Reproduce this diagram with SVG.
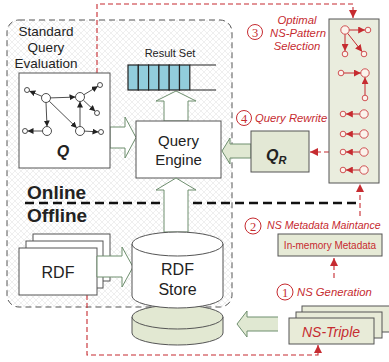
<svg xmlns="http://www.w3.org/2000/svg" width="389" height="362" viewBox="0 0 389 362">
<style>
  .box { stroke: #555; stroke-width: 1; }
  .wht { fill: #fff; }
  .txt { font-family: "Liberation Sans", Arial, sans-serif; fill: #222; }
  .red { font-family: "Liberation Sans", Arial, sans-serif; fill: #c62b30; font-style: italic; }
  .num { font-family: "Liberation Serif", serif; fill: #c62b30; }
  .rdash { fill: none; stroke: #c62b30; stroke-width: 1.1; stroke-dasharray: 5 3; }
  .harrow { fill: #fff; stroke: #6f8f6f; stroke-width: 1; }
  .garrow { fill: #e0e8d2; stroke: #6f8f6f; stroke-width: 1; }
  .qe { fill: none; stroke: #222; stroke-width: 0.8; }
  .qn { fill: #fff; stroke: #222; stroke-width: 0.8; }
  .pe { fill: none; stroke: #c62b30; stroke-width: 1; }
  .pn { fill: #fbf3ec; stroke: #c62b30; stroke-width: 0.8; }
  .cell { fill: #92cddc; stroke: #222; stroke-width: 1.2; }
</style>
<defs>
  <pattern id="hatch" width="6" height="6" patternUnits="userSpaceOnUse">
    <rect width="6" height="6" fill="#fff"/>
    <path d="M0,0 L6,6 M6,0 L0,6" stroke="#e4e4e4" stroke-width="0.6"/>
  </pattern>
  <marker id="ra" viewBox="0 0 10 10" refX="10" refY="5" markerWidth="8" markerHeight="8" markerUnits="userSpaceOnUse" orient="auto">
    <path d="M0,0 L10,5 L0,10 z" fill="#c62b30"/>
  </marker>
  <marker id="rs" viewBox="0 0 10 10" refX="10" refY="5" markerWidth="7" markerHeight="7" markerUnits="userSpaceOnUse" orient="auto">
    <path d="M0,0 L10,5 L0,10 z" fill="#c62b30"/>
  </marker>
  <marker id="ba" viewBox="0 0 10 10" refX="10" refY="5" markerWidth="6" markerHeight="6" markerUnits="userSpaceOnUse" orient="auto">
    <path d="M0,0 L10,5 L0,10 z" fill="#222"/>
  </marker>
</defs>

<rect width="389" height="362" fill="#fff"/>

<!-- Online region -->
<g id="region">
  <rect x="7" y="20" width="225" height="287" rx="12" fill="url(#hatch)" stroke="#555" stroke-width="1" stroke-dasharray="6 4"/>
  <text class="txt" x="46" y="36" font-size="13.5" text-anchor="middle">Standard</text>
  <text class="txt" x="46" y="52" font-size="13.5" text-anchor="middle">Query</text>
  <text class="txt" x="46" y="68" font-size="13.5" text-anchor="middle">Evaluation</text>
</g>

<!-- connectors -->
<g id="connectors">
  <path class="rdash" d="M97,73 V4 H353 V18" marker-end="url(#ra)"/>
  <path class="rdash" d="M329,152 H310" marker-end="url(#ra)"/>
  <path class="rdash" d="M360,216 V184" marker-end="url(#ra)"/>
  <path class="rdash" d="M334,278 V258" marker-end="url(#ra)"/>
  <path class="rdash" d="M87,295 V355 H318 V345" marker-end="url(#ra)"/>
  <path class="harrow" d="M164,121 V101 H156 L176,91 L196,101 H188 V121 Z"/>
  <path class="harrow" d="M110,127 H125 V117 L136,137.5 L125,158 V148 H110 Z"/>
  <path class="garrow" d="M251,144 H230 V138 L222,151 L230,164 V158 H251 Z"/>
</g>

<!-- Q box -->
<g id="node-q">
  <rect class="box wht" x="19" y="73" width="91" height="95"/>
  <line class="qe" x1="41.9" y1="96.3" x2="29.3" y2="91" marker-end="url(#ba)"/>
  <line class="qe" x1="50.5" y1="97.9" x2="75.5" y2="97.1" marker-end="url(#ba)"/>
  <line class="qe" x1="46" y1="102.5" x2="47" y2="126.5" marker-end="url(#ba)"/>
  <line class="qe" x1="49.2" y1="101.1" x2="76.8" y2="127.9" marker-end="url(#ba)"/>
  <line class="qe" x1="80" y1="126.5" x2="80" y2="101.5" marker-end="url(#ba)"/>
  <line class="qe" x1="83.9" y1="94.7" x2="97.9" y2="86.3" marker-end="url(#ba)"/>
  <line class="qe" x1="83.3" y1="100.1" x2="95.2" y2="111.3" marker-end="url(#ba)"/>
  <line class="qe" x1="42.5" y1="131" x2="27.5" y2="131" marker-end="url(#ba)"/>
  <line class="qe" x1="84.5" y1="131.1" x2="98.5" y2="131.9" marker-end="url(#ba)"/>
  <circle class="qn" cx="46" cy="98" r="4.5"/>
  <circle class="qn" cx="80" cy="97" r="4.5"/>
  <circle class="qn" cx="47" cy="131" r="4.5"/>
  <circle class="qn" cx="80" cy="131" r="4.5"/>
  <circle class="qn" cx="27" cy="90" r="2.5"/>
  <circle class="qn" cx="100" cy="85" r="2.5"/>
  <circle class="qn" cx="97" cy="113" r="2.5"/>
  <circle class="qn" cx="25" cy="131" r="2.5"/>
  <circle class="qn" cx="101" cy="132" r="2.5"/>
  <text class="txt" x="63" y="157" font-size="16" font-weight="bold" font-style="italic" text-anchor="middle">Q</text>
</g>

<!-- Result set queue -->
<g id="node-result">
  <text class="txt" x="170" y="57" font-size="11" text-anchor="middle">Result Set</text>
  <rect class="cell" x="128" y="65" width="10.3" height="25"/>
  <rect class="cell" x="138.3" y="65" width="10.3" height="25"/>
  <rect class="cell" x="148.6" y="65" width="10.3" height="25"/>
  <rect class="cell" x="158.9" y="65" width="10.3" height="25"/>
  <rect class="cell" x="169.2" y="65" width="10.3" height="25"/>
  <rect class="cell" x="179.5" y="65" width="10.3" height="25"/>
  <path d="M189.8,65 H216 M189.8,90 H216" stroke="#222" stroke-width="1.2" fill="none"/>
</g>

<!-- Query Engine -->
<g id="node-engine">
  <rect class="box wht" x="136" y="121" width="85" height="57"/>
  <text class="txt" x="178.5" y="146" font-size="15" text-anchor="middle">Query</text>
  <text class="txt" x="178.5" y="165" font-size="15" text-anchor="middle">Engine</text>
</g>

<!-- QR -->
<g id="node-qr">
  <rect class="box" x="251" y="131" width="58" height="41" fill="#e3e8d5"/>
  <text class="txt" x="266" y="161" font-size="16" font-weight="bold" font-style="italic">Q<tspan font-size="11" dy="3">R</tspan></text>
</g>

<!-- Right panel -->
<g id="node-panel">
  <rect class="box" x="329" y="19" width="50" height="164" fill="#eaedde"/>
  <line class="pe" x1="349.2" y1="30" x2="365.2" y2="30" marker-end="url(#rs)"/>
  <line class="pe" x1="345" y1="34.2" x2="345" y2="51" marker-end="url(#rs)"/>
  <line class="pe" x1="347.6" y1="33.3" x2="362.2" y2="51.7" marker-end="url(#rs)"/>
  <line class="pe" x1="343.8" y1="73" x2="360.8" y2="73" marker-end="url(#rs)"/>
  <line class="pe" x1="365" y1="95.2" x2="365" y2="77.2" marker-end="url(#rs)"/>
  <line class="pe" x1="359.8" y1="114" x2="345.8" y2="114" marker-end="url(#rs)"/>
  <line class="pe" x1="359.8" y1="134" x2="345.8" y2="134" marker-end="url(#rs)"/>
  <line class="pe" x1="359.8" y1="152" x2="345.8" y2="152" marker-end="url(#rs)"/>
  <line class="pe" x1="359.8" y1="170" x2="345.8" y2="170" marker-end="url(#rs)"/>
  <circle class="pn" cx="345" cy="30" r="4.2"/>
  <circle class="pn" cx="368" cy="30" r="2.8"/>
  <circle class="pn" cx="345" cy="54" r="2.8"/>
  <circle class="pn" cx="364" cy="54" r="2.8"/>
  <circle class="pn" cx="341" cy="73" r="2.8"/>
  <circle class="pn" cx="365" cy="73" r="4.2"/>
  <circle class="pn" cx="365" cy="98" r="2.8"/>
  <circle class="pn" cx="364" cy="114" r="4.2"/>
  <circle class="pn" cx="343" cy="114" r="2.8"/>
  <circle class="pn" cx="364" cy="134" r="4.2"/>
  <circle class="pn" cx="343" cy="134" r="2.8"/>
  <circle class="pn" cx="364" cy="152" r="4.2"/>
  <circle class="pn" cx="343" cy="152" r="2.8"/>
  <circle class="pn" cx="364" cy="170" r="4.2"/>
  <circle class="pn" cx="343" cy="170" r="2.8"/>
</g>

<!-- step labels -->
<g id="label-3">
  <circle cx="255" cy="32" r="7.5" fill="none" stroke="#c62b30" stroke-width="1"/>
  <text class="num" x="255" y="36.5" font-size="12.5" text-anchor="middle">3</text>
  <text class="red" x="297" y="24" font-size="11.3" text-anchor="middle">Optimal</text>
  <text class="red" x="298" y="37" font-size="11.3" text-anchor="middle">NS-Pattern</text>
  <text class="red" x="297" y="50" font-size="11.3" text-anchor="middle">Selection</text>
</g>
<g id="label-4">
  <circle cx="244" cy="118" r="7.5" fill="none" stroke="#c62b30" stroke-width="1"/>
  <text class="num" x="244" y="122.5" font-size="12.5" text-anchor="middle">4</text>
  <text class="red" x="255" y="122" font-size="11.3">Query Rewrite</text>
</g>

<!-- Online / Offline -->
<g id="divider">
  <text class="txt" x="27" y="199" font-size="19" font-weight="bold">Online</text>
  <text class="txt" x="27" y="222" font-size="19" font-weight="bold">Offline</text>
  <line x1="25" y1="203" x2="357" y2="203" stroke="#111" stroke-width="2.5" stroke-dasharray="9 5"/>
</g>

<!-- Store -> Engine arrow -->
<g id="arrow-store">
  <path class="harrow" d="M164,232 V190 H156 L176,178 L196,190 H188 V232 Z"/>
</g>

<!-- RDF documents -->
<g id="node-rdf">
  <rect class="box wht" x="33" y="234" width="77" height="47"/>
  <rect class="box wht" x="26" y="241" width="77" height="47"/>
  <rect class="box wht" x="19" y="248" width="78" height="47"/>
  <text class="txt" x="58" y="278" font-size="16" text-anchor="middle">RDF</text>
  <path class="harrow" d="M97,256 H122 V247 L133,267 L122,287 V277 H97 Z"/>
</g>

<!-- green disk -->
<g id="node-disk">
  <path class="box" d="M132,317 V333 A45.5,12 0 0 0 223,333 V317 Z" fill="#e2e8d2"/>
  <ellipse class="box" cx="177.5" cy="317" rx="45.5" ry="12" fill="#e2e8d2"/>
</g>

<!-- RDF Store cylinder -->
<g id="node-store">
  <path class="box wht" d="M132,244 V296 A45.5,12 0 0 0 223,296 V244 Z"/>
  <ellipse class="box wht" cx="177.5" cy="244" rx="45.5" ry="12"/>
  <text class="txt" x="177.5" y="275" font-size="16" text-anchor="middle">RDF</text>
  <text class="txt" x="177.5" y="295" font-size="16" text-anchor="middle">Store</text>
</g>

<!-- In-memory metadata -->
<g id="node-metadata">
  <rect class="box" x="278" y="234" width="104" height="22" fill="#e6ead6"/>
  <text class="txt" x="330" y="249" font-size="10" style="fill:#c62b30" text-anchor="middle">In-memory Metadata</text>
</g>

<g id="label-2">
  <circle cx="253" cy="226" r="8" fill="none" stroke="#c62b30" stroke-width="1"/>
  <text class="num" x="253" y="230.5" font-size="12.5" text-anchor="middle">2</text>
  <text class="red" x="267" y="229" font-size="10.6">NS Metadata Maintance</text>
</g>
<g id="label-1">
  <circle cx="285" cy="292" r="8" fill="none" stroke="#c62b30" stroke-width="1"/>
  <text class="num" x="285" y="296.5" font-size="12.5" text-anchor="middle">1</text>
  <text class="red" x="297" y="296" font-size="11.3">NS Generation</text>
</g>

<!-- NS-Triple -->
<g id="node-nstriple">
  <path class="garrow" d="M278,317 H247 V311 L237,324 L247,337 V331 H278"/>
  <rect class="box" x="302" y="306" width="90" height="26" fill="#e8ebd8"/>
  <rect class="box" x="296" y="312" width="86" height="26" fill="#e8ebd8"/>
  <rect class="box" x="289" y="318" width="85" height="26" fill="#e8ebd8"/>
  <text class="red" x="331" y="337" font-size="14" text-anchor="middle">NS-Triple</text>
</g>
</svg>
